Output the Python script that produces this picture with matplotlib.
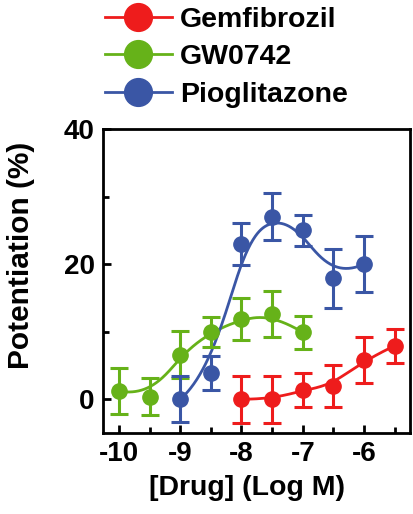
import numpy as np
import matplotlib
matplotlib.use("Agg")
import matplotlib.pyplot as plt
from matplotlib.ticker import FixedLocator

plt.rcParams['font.family'] = ['Liberation Sans', 'DejaVu Sans']
plt.rcParams['font.weight'] = 'bold'
plt.rcParams['axes.unicode_minus'] = False

gem_x = [-8, -7.5, -7, -6.5, -6, -5.5]
gem_y = [0, 0, 1.4, 2.0, 5.8, 7.9]
gem_e = [3.5, 3.5, 2.5, 3.1, 3.4, 2.5]

gw_x = [-10, -9.5, -9, -8.5, -8, -7.5, -7]
gw_y = [1.2, 0.4, 6.6, 9.9, 11.9, 12.6, 9.9]
gw_e = [3.4, 2.8, 3.5, 2.2, 3.1, 3.4, 2.4]

pio_x = [-9, -8.5, -8, -7.5, -7, -6.5, -6]
pio_y = [0, 3.9, 23, 27, 25, 17.9, 20]
pio_e = [3.4, 2.5, 3.1, 3.5, 2.3, 4.4, 4.2]

names = ['Gemfibrozil', 'GW0742', 'Pioglitazone']
colors = ['#ee1c1c', '#66b219', '#3a56a5']


def bspline(px, py, p=3, n=400):
    """Clamped uniform B-spline using the data points as control points."""
    P = np.column_stack([px, py]).astype(float)
    m = len(P)
    inner = np.arange(1, m - p)
    t = np.concatenate([np.zeros(p + 1), inner, np.full(p + 1, m - p)]).astype(float)
    u = np.linspace(0, m - p, n)
    u[-1] -= 1e-9
    N = np.zeros((n, len(t) - 1))
    for i in range(len(t) - 1):
        N[:, i] = (u >= t[i]) & (u < t[i + 1])
    for k in range(1, p + 1):
        Nn = np.zeros((n, len(t) - 1 - k))
        for i in range(len(t) - 1 - k):
            d1 = t[i + k] - t[i]
            d2 = t[i + k + 1] - t[i + 1]
            term = np.zeros(n)
            if d1 > 0:
                term += (u - t[i]) / d1 * N[:, i]
            if d2 > 0:
                term += (t[i + k + 1] - u) / d2 * N[:, i + 1]
            Nn[:, i] = term
        N = Nn
    C = N @ P
    return C[:, 0], C[:, 1]


fig = plt.figure(figsize=(4.14, 5.14), dpi=100)
ax = fig.add_axes([103 / 414, 1 - 433 / 514, 307 / 414, 304 / 514])

series = [(gem_x, gem_y, gem_e), (gw_x, gw_y, gw_e), (pio_x, pio_y, pio_e)]
handles = []
for (x, y, e), c, nm in zip(series, colors, names):
    xs, ys = bspline(x, y)
    ax.plot(xs, ys, color=c, lw=2, zorder=2)
    ax.errorbar(x, y, yerr=e, fmt='o', color=c, ms=11, capsize=6.5,
                elinewidth=2.2, capthick=2.2, zorder=3)
    h, = ax.plot([], [], '-o', color=c, ms=20, lw=2, label=nm)
    handles.append(h)

ax.set_xlim(-10.26, -5.25)
ax.set_ylim(-5, 40)
ax.xaxis.set_major_locator(FixedLocator([-10, -9, -8, -7, -6]))
ax.xaxis.set_minor_locator(FixedLocator([-9.5, -8.5, -7.5, -6.5, -5.5]))
ax.yaxis.set_major_locator(FixedLocator([0, 20, 40]))
ax.yaxis.set_minor_locator(FixedLocator([10, 30]))
ax.tick_params(which='major', direction='in', length=6, width=2, labelsize=20, pad=6)
ax.tick_params(which='minor', direction='in', length=4, width=2)
for lbl in ax.get_xticklabels() + ax.get_yticklabels():
    lbl.set_fontweight('bold')
for s in ax.spines.values():
    s.set_linewidth(2)

ax.set_xlabel('[Drug] (Log M)', fontsize=20.5, fontweight='bold')
ax.set_ylabel('Potentiation (%)', fontsize=21.5, fontweight='bold')
ax.xaxis.set_label_coords((247.5 - 103) / 307, (433 - 475) / 304)
ax.yaxis.set_label_coords((35 - 103) / 307, (433 - 255) / 304)

fig.legend(handles=handles, loc='upper left', bbox_to_anchor=(102 / 414, 1 - 4 / 514),
           frameon=False, prop={'size': 20.5, 'weight': 'bold'}, handlelength=2.35,
           labelspacing=0.4, handletextpad=0.3, borderaxespad=0.0, borderpad=0.1)

fig.savefig('out.png', dpi=100)
